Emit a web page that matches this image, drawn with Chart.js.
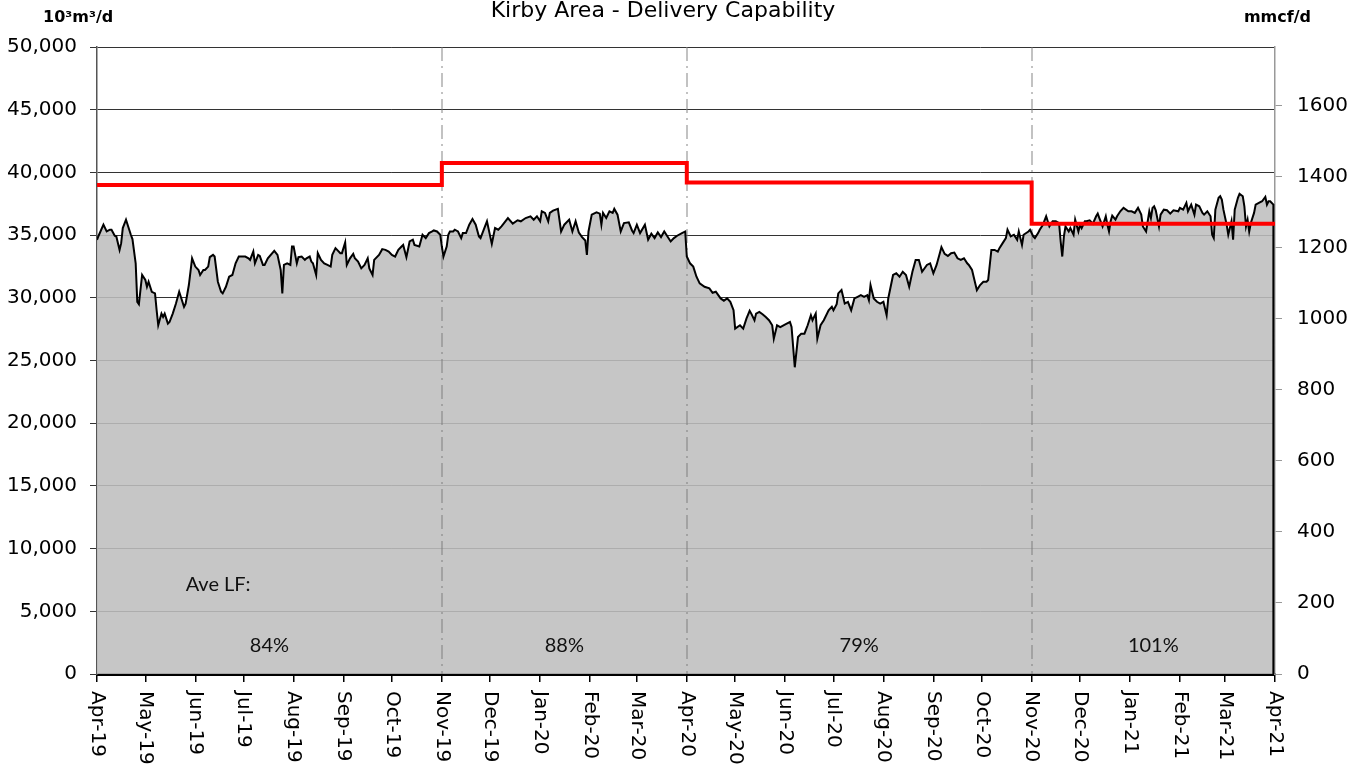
<!DOCTYPE html>
<html>
<head>
<meta charset="utf-8">
<title>Kirby Area - Delivery Capability</title>
<script src="https://cdn.jsdelivr.net/npm/chart.js@4.4.0/dist/chart.umd.min.js"></script>
<style>
    html, body { margin: 0; padding: 0; background: #fff; }
    #chart-kirby { display: block; }
</style>
</head>
<body>
<canvas id="chart-kirby" width="1356" height="768"></canvas>
<script>
// x values are days since 1 Apr 2019, y values in 10^3 m3/d
const monthLabels = [
    'Apr-19', 'May-19', 'Jun-19', 'Jul-19', 'Aug-19', 'Sep-19', 'Oct-19', 'Nov-19',
    'Dec-19', 'Jan-20', 'Feb-20', 'Mar-20', 'Apr-20', 'May-20', 'Jun-20', 'Jul-20',
    'Aug-20', 'Sep-20', 'Oct-20', 'Nov-20', 'Dec-20', 'Jan-21', 'Feb-21', 'Mar-21', 'Apr-21'
];

// [day, flow]
const flowApr19Oct19 = [
    [0, 34620], [1, 34950], [4, 35830], [6, 35290], [8, 35430], [9, 35430], [11, 34950], [12, 34890],
    [14, 33820], [15, 34360], [16, 35560], [18, 36230], [21, 35030], [22, 34680], [24, 32750], [25, 29680],
    [26, 29490], [28, 31820], [30, 31420], [31, 30880], [32, 31280], [34, 30480], [36, 30350], [37, 29010],
    [38, 27810], [40, 28740], [41, 28470], [42, 28740], [44, 27940], [45, 28070], [47, 28740], [49, 29540],
    [51, 30480], [52, 30080], [54, 29280], [55, 29540], [57, 31020], [59, 33150], [61, 32490], [63, 32220],
    [64, 31820], [66, 32220], [67, 32220], [69, 32490], [70, 33240], [72, 33420], [73, 33290], [75, 31280],
    [77, 30480], [78, 30350], [80, 30880], [82, 31680], [84, 31820], [86, 32750], [88, 33290], [90, 33290],
    [92, 33290], [94, 33150], [95, 33020], [97, 33690], [98, 32750], [100, 33420], [101, 33340], [103, 32620],
    [104, 32620], [106, 33150], [110, 33740], [112, 33420], [114, 32220], [115, 30350], [116, 32620], [118, 32750],
    [120, 32620], [121, 34090], [122, 34090], [124, 32750], [125, 33240], [127, 33290], [129, 33020], [130, 33150],
    [132, 33290], [133, 32890], [134, 32750], [136, 31820], [137, 33560], [139, 33020], [141, 32750], [143, 32620],
    [145, 32490], [146, 33420], [148, 33960], [151, 33560], [152, 33560], [154, 34410], [155, 32620], [157, 33150],
    [159, 33500], [160, 33150], [162, 32890], [164, 32350], [166, 32620], [168, 33150], [169, 32350], [171, 31820],
    [172, 33020], [175, 33420], [177, 33880], [179, 33820], [181, 33690], [183, 33420], [185, 33290], [187, 33820],
    [189, 34090], [190, 34220], [192, 33240], [194, 34490], [196, 34630], [197, 34220], [200, 34090], [202, 35030],
    [204, 34760], [206, 35160], [208, 35290], [209, 35370], [211, 35290], [213, 35030]
];
const flowNov19Mar20 = [
    [214, 34090], [215, 33290], [217, 34090], [218, 35030], [219, 35290], [221, 35290], [222, 35430], [224, 35290],
    [226, 34760], [227, 35160], [229, 35160], [231, 35830], [233, 36280], [235, 35830], [237, 34890], [238, 34760],
    [240, 35430], [242, 36100], [245, 34300], [247, 35560], [249, 35430], [251, 35690], [255, 36360], [258, 35910],
    [261, 36180], [263, 36100], [266, 36360], [269, 36500], [271, 36230], [273, 36500], [275, 36100], [276, 36900],
    [278, 36770], [280, 36100], [281, 36770], [283, 36950], [286, 37090], [288, 35290], [290, 35830], [293, 36230],
    [295, 35290], [297, 36100], [299, 35210], [301, 34840], [303, 34570], [304, 33420], [305, 35290], [307, 36630],
    [310, 36820], [312, 36710], [313, 35830], [314, 36770], [316, 36360], [318, 36900], [320, 36770], [321, 37090],
    [323, 36630], [325, 35290], [327, 35960], [330, 36020], [332, 35370], [333, 35160], [335, 35830], [337, 35160],
    [340, 35830], [342, 34630], [344, 35110], [346, 34760], [348, 35210], [350, 34840], [352, 35290], [354, 34890],
    [356, 34490], [358, 34760], [360, 34950], [363, 35160], [365, 35290]
];
const flowApr20Oct20 = [
    [366, 33290], [368, 32750], [370, 32490], [372, 31680], [374, 31150], [377, 30880], [380, 30750], [382, 30400],
    [384, 30480], [387, 29950], [389, 29760], [391, 29950], [393, 29680], [395, 29010], [396, 27540], [399, 27810],
    [401, 27540], [403, 28340], [405, 28960], [406, 28740], [408, 28210], [409, 28740], [411, 28880], [413, 28690],
    [415, 28470], [417, 28210], [419, 27810], [420, 26740], [422, 27810], [424, 27670], [426, 27810], [428, 27940],
    [430, 28070], [431, 27670], [433, 24460], [435, 26870], [437, 27140], [439, 27140], [441, 27810], [443, 28610],
    [444, 28210], [446, 28740], [447, 26740], [449, 27810], [451, 28210], [454, 29010], [456, 29280], [457, 29010],
    [459, 29490], [460, 30350], [462, 30620], [464, 29540], [466, 29680], [468, 29010], [470, 29950], [472, 30080],
    [474, 30210], [476, 30080], [478, 30210], [479, 29810], [480, 31020], [482, 29950], [484, 29680], [486, 29540],
    [488, 29680], [490, 28610], [491, 29950], [494, 31820], [496, 31950], [498, 31680], [500, 32080], [502, 31820],
    [504, 30880], [506, 32080], [508, 33020], [510, 33020], [512, 32080], [515, 32620], [517, 32750], [519, 31950],
    [521, 32620], [523, 33560], [524, 34040], [526, 33500], [528, 33340], [530, 33560], [532, 33610], [534, 33150],
    [536, 33020], [538, 33150], [540, 32750], [541, 32620], [543, 32220], [544, 31680], [546, 30610], [548, 31020],
    [550, 31280], [552, 31280], [553, 31420], [555, 33820], [557, 33820], [559, 33690], [560, 33960], [562, 34360],
    [564, 34760], [565, 35430], [567, 34890], [569, 35030], [571, 34630], [572, 35290], [574, 34220], [575, 35030],
    [578, 35290], [579, 35430]
];
const flowNov20Mar21 = [
    [581, 34890], [582, 34760], [584, 35160], [585, 35430], [587, 35830], [589, 36500], [591, 35690], [593, 36100],
    [595, 36100], [597, 35960], [598, 34490], [599, 33290], [600, 34890], [601, 35690], [603, 35290], [604, 35560],
    [606, 35030], [607, 36230], [609, 35290], [610, 35830], [611, 35560], [613, 36100], [614, 36100], [616, 36180],
    [618, 35910], [620, 36500], [621, 36710], [622, 36360], [624, 35690], [626, 36500], [627, 35830], [628, 35290],
    [629, 36100], [630, 36550], [632, 36230], [633, 36500], [635, 36900], [637, 37170], [640, 36900], [642, 36900],
    [644, 36770], [646, 37170], [648, 36630], [649, 35690], [651, 35290], [653, 36900], [654, 36360], [655, 37170],
    [656, 37300], [657, 36980], [659, 35690], [660, 36630], [662, 37030], [664, 36980], [666, 36710], [668, 36980],
    [671, 36900], [672, 37170], [674, 37030], [676, 37570], [677, 36900], [679, 37430], [681, 36630], [682, 37430],
    [684, 37300], [686, 36770], [687, 36630], [689, 36900], [691, 36500], [692, 35030], [693, 34760], [694, 37030],
    [696, 37970], [697, 38100], [698, 37830], [699, 37030], [701, 35830], [702, 35030], [704, 36100], [705, 34630],
    [706, 37030], [708, 37970], [709, 38290], [711, 38100], [712, 37300], [713, 35690], [714, 36230], [715, 35290],
    [716, 35960], [718, 36770], [719, 37430], [721, 37570], [723, 37700], [725, 38050], [726, 37430], [727, 37700],
    [728, 37700], [730, 37430], [730, 0]
];

// delivery capability, one value per period
const capacityStarts = ['Apr-19', 'Nov-19', 'Apr-20', 'Nov-20', 'Apr-21'];
const capacityValues = [39000, 40750, 39200, 35900, 35900];
const loadFactorLabels = ['84%', '88%', '79%', '101%'];

const rightTicks = [0, 200, 400, 600, 800, 1000, 1200, 1400, 1600];
const MMCF_PER_E3M3 = 0.0353147;

const MONTHS = ['Jan', 'Feb', 'Mar', 'Apr', 'May', 'Jun', 'Jul', 'Aug', 'Sep', 'Oct', 'Nov', 'Dec'];
const START = Date.UTC(2019, 3, 1);

function dayOf(label) {
    const [m, y] = label.split('-');
    return Math.round((Date.UTC(2000 + Number(y), MONTHS.indexOf(m), 1) - START) / 86400000);
}

function toPoints(pairs) {
    return pairs.map(p => ({x: p[0], y: p[1]}));
}

const monthDays = monthLabels.map(dayOf);
const capacityDays = capacityStarts.map(dayOf);
const flowPoints = toPoints([].concat(flowApr19Oct19, flowNov19Mar20, flowApr20Oct20, flowNov20Mar21));
const capacityPoints = capacityDays.map((d, i) => ({x: d, y: capacityValues[i]}));

const axisFont = {family: 'DejaVu Sans', size: 20};

// dash-dot separators between the periods, drawn over the grey area but under the lines
const periodLines = {
    id: 'periodLines',
    beforeDatasetDraw(chart, args) {
        if (args.index !== 1) return;
        const {ctx, chartArea, scales} = chart;
        ctx.save();
        ctx.strokeStyle = 'rgba(120,120,120,0.45)';
        ctx.lineWidth = 2;
        ctx.setLineDash([14, 5, 2, 5]);
        for (let i = 1; i < capacityDays.length - 1; i++) {
            const x = Math.round(scales.x.getPixelForValue(capacityDays[i]));
            ctx.beginPath();
            ctx.moveTo(x, chartArea.top);
            ctx.lineTo(x, chartArea.bottom);
            ctx.stroke();
        }
        ctx.restore();
    }
};

const textLayer = {
    id: 'textLayer',
    afterDraw(chart) {
        const {ctx, chartArea, scales} = chart;
        ctx.save();
        ctx.fillStyle = '#000';

        // month labels, rotated to read downwards
        ctx.font = '20px "DejaVu Sans"';
        ctx.textAlign = 'left';
        ctx.textBaseline = 'middle';
        monthLabels.forEach((label, i) => {
            const x = scales.x.getPixelForValue(monthDays[i]);
            ctx.save();
            ctx.translate(x, chartArea.bottom + 17);
            ctx.rotate(Math.PI / 2);
            ctx.fillText(label, 0, 0);
            ctx.restore();
        });

        // title and units
        ctx.textBaseline = 'middle';
        ctx.textAlign = 'center';
        ctx.font = '22px "DejaVu Sans"';
        ctx.fillText('Kirby Area - Delivery Capability', 663, 11);
        ctx.font = 'bold 16px "DejaVu Sans"';
        ctx.textAlign = 'left';
        ctx.fillText('10³m³/d', 43, 18);
        ctx.textAlign = 'right';
        ctx.fillText('mmcf/d', 1311, 18);

        // load factor notes
        ctx.font = '20px Lato';
        ctx.fillStyle = '#111';
        ctx.textAlign = 'left';
        ctx.fillText('Ave LF:', scales.x.getPixelForValue(55), scales.y.getPixelForValue(7150));
        ctx.textAlign = 'center';
        loadFactorLabels.forEach((label, i) => {
            const mid = (capacityDays[i] + capacityDays[i + 1]) / 2;
            ctx.fillText(label, scales.x.getPixelForValue(mid), scales.y.getPixelForValue(2300));
        });
        ctx.restore();
    }
};

const elChart = document.getElementById('chart-kirby');
const chart = new Chart(elChart, {
    type: 'line',
    data: {
        datasets: [
            {
                label: 'Delivery Capability',
                data: capacityPoints,
                stepped: 'before',
                borderColor: '#ff0000',
                borderWidth: 4,
                pointRadius: 0,
                fill: false,
            },
            {
                label: 'Deliveries',
                data: flowPoints,
                borderColor: '#000',
                borderWidth: 2,
                pointRadius: 0,
                fill: false,
            },
            {
                label: 'Deliveries area',
                data: flowPoints,
                borderWidth: 0,
                borderColor: 'rgba(0,0,0,0)',
                backgroundColor: 'rgba(190,190,190,0.88)',
                pointRadius: 0,
                fill: 'origin',
            },
        ]
    },
    options: {
        responsive: false,
        animation: false,
        layout: {padding: {top: 47, left: 0, right: 0, bottom: 0}},
        plugins: {
            legend: {display: false},
            tooltip: {enabled: false},
        },
        scales: {
            x: {
                type: 'linear',
                min: 0,
                max: monthDays[monthDays.length - 1],
                afterBuildTicks: s => { s.ticks = monthDays.map(v => ({value: v})); },
                ticks: {display: false},
                grid: {drawOnChartArea: false, drawTicks: true, tickLength: 8, color: '#000', lineWidth: 1.5},
                border: {color: '#000', width: 3},
                afterFit: s => { s.height = 94; },
            },
            y: {
                position: 'left',
                min: 0,
                max: 50000,
                ticks: {
                    stepSize: 5000,
                    color: '#000',
                    font: axisFont,
                    padding: 13,
                    callback: v => v.toLocaleString('en-US'),
                },
                grid: {color: '#333', lineWidth: 1, tickLength: 7},
                border: {color: '#555', width: 1.5},
                afterFit: s => { s.width = 97; },
            },
            y2: {
                position: 'right',
                min: 0,
                max: 50000 * MMCF_PER_E3M3,
                afterBuildTicks: s => { s.ticks = rightTicks.map(v => ({value: v})); },
                ticks: {color: '#000', font: axisFont, padding: 15, callback: v => String(v)},
                grid: {drawOnChartArea: false, tickLength: 7, color: '#999'},
                border: {color: '#999', width: 1.5},
                afterFit: s => { s.width = 81; },
            },
        }
    },
    plugins: [periodLines, textLayer],
});
</script>
</body>
</html>
